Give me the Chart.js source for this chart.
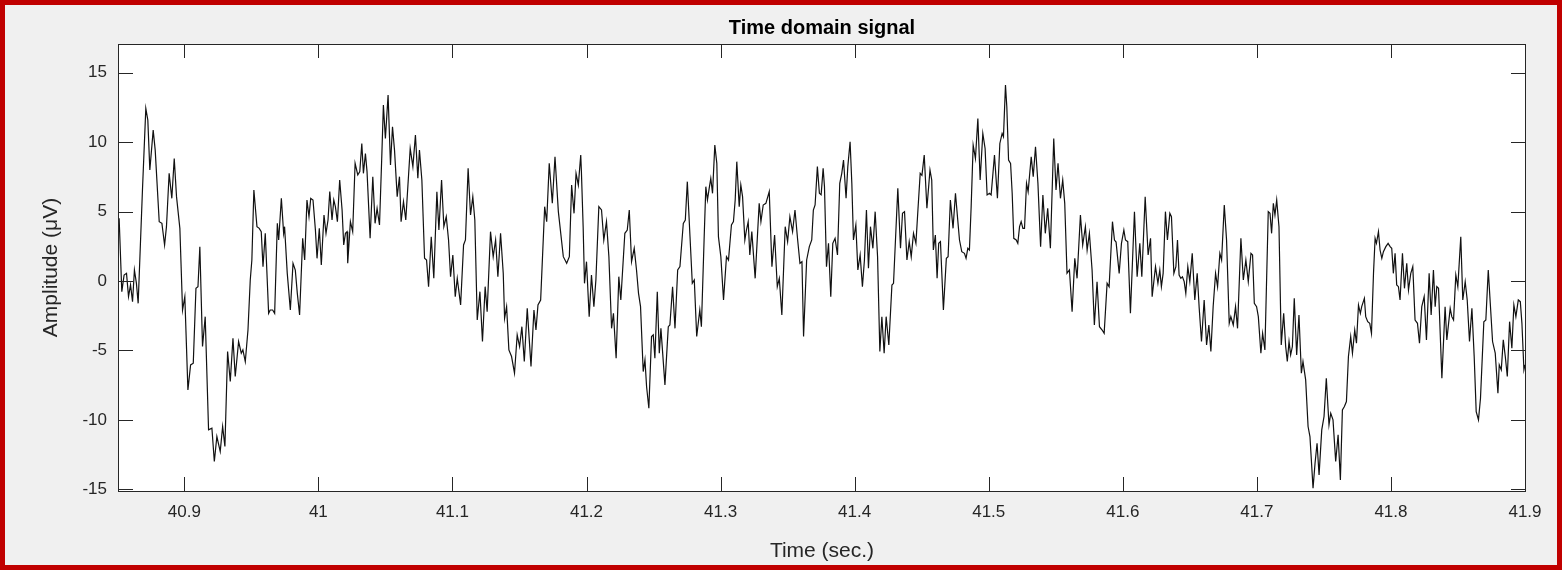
<!DOCTYPE html>
<html>
<head>
<meta charset="utf-8">
<title>Time domain signal</title>
<script src="https://cdn.jsdelivr.net/npm/chart.js@4.4.1/dist/chart.umd.min.js"></script>
<style>
  html, body { margin: 0; padding: 0; background: #f0f0f0; }
  #wrap { position: relative; width: 1562px; height: 570px; }
  #frame {
    position: absolute; left: 0; top: 0; width: 1562px; height: 570px;
    box-sizing: border-box; border: 5px solid #c00000; pointer-events: none;
  }
</style>
</head>
<body>
<div id="wrap">
  <canvas id="signal-chart" width="1562" height="570"></canvas>
  <div id="frame"></div>
</div>
<script>
// samples, one line per ~0.09 s stretch
const timeSec = [
  40.8514, 40.8534, 40.8551, 40.8569, 40.8584, 40.8599, 40.8614, 40.8628, 40.8643, 40.8656, 40.8688, 40.8713, 40.8728, 40.8743, 40.8768, 40.8783, 40.8813, 40.8833, 40.8853, 40.8867, 40.8887, 40.8907, 40.8925, 40.8942, 40.8967, 40.8987, 40.9004, 40.9027, 40.9047, 40.9067, 40.9087, 40.9102, 40.9116, 40.9136, 40.9156, 40.9181, 40.9206, 40.9224, 40.9243, 40.9268, 40.9286, 40.9303, 40.9323, 40.9343, 40.9363, 40.9380,
  40.9405, 40.9425, 40.9437, 40.9455, 40.9475, 40.9492, 40.9504, 40.9519, 40.9542, 40.9559, 40.9574, 40.9587, 40.9604, 40.9629, 40.9641, 40.9659, 40.9674, 40.9694, 40.9704, 40.9724, 40.9741, 40.9748, 40.9768, 40.9791, 40.9811, 40.9828, 40.9843, 40.9860, 40.9883, 40.9898, 40.9915, 40.9930, 40.9943, 40.9960, 40.9978, 40.9990, 41.0007, 41.0022, 41.0042, 41.0057, 41.0072, 41.0085, 41.0102, 41.0115, 41.0127, 41.0142, 41.0159, 41.0177, 41.0189, 41.0202, 41.0214,
  41.0219, 41.0239, 41.0256, 41.0274, 41.0294, 41.0309, 41.0324, 41.0336, 41.0351, 41.0363, 41.0386, 41.0406, 41.0423, 41.0438, 41.0456, 41.0473, 41.0485, 41.0500, 41.0520, 41.0538, 41.0553, 41.0568, 41.0588, 41.0605, 41.0617, 41.0635, 41.0652, 41.0685, 41.0705, 41.0724, 41.0742, 41.0754, 41.0772, 41.0792, 41.0807, 41.0822, 41.0842, 41.0861, 41.0884, 41.0899, 41.0919, 41.0936, 41.0954, 41.0971, 41.0986, 41.1003, 41.1021, 41.1036, 41.1061, 41.1083,
  41.1097, 41.1117, 41.1135, 41.1152, 41.1167, 41.1185, 41.1205, 41.1224, 41.1244, 41.1259, 41.1284, 41.1304, 41.1322, 41.1339, 41.1359, 41.1379, 41.1389, 41.1404, 41.1421, 41.1441, 41.1463, 41.1483, 41.1501, 41.1518, 41.1536, 41.1558, 41.1586, 41.1608, 41.1623, 41.1638, 41.1658, 41.1688, 41.1703, 41.1722, 41.1745, 41.1765, 41.1790, 41.1827, 41.1852, 41.1872, 41.1889, 41.1907, 41.1922, 41.1939, 41.1957,
  41.1962, 41.1975, 41.1985, 41.2000, 41.2020, 41.2037, 41.2055, 41.2070, 41.2092, 41.2112, 41.2129, 41.2149, 41.2167, 41.2187, 41.2201, 41.2221, 41.2241, 41.2256, 41.2286, 41.2304, 41.2319, 41.2336, 41.2356, 41.2373, 41.2388, 41.2403, 41.2423, 41.2436, 41.2448, 41.2465, 41.2485, 41.2498, 41.2510, 41.2528, 41.2543, 41.2555, 41.2585, 41.2610, 41.2622, 41.2642, 41.2660, 41.2680, 41.2697, 41.2722, 41.2737, 41.2752, 41.2772, 41.2789, 41.2804, 41.2822,
  41.2845, 41.2857, 41.2877, 41.2890, 41.2902, 41.2915, 41.2927, 41.2940, 41.2957, 41.2972, 41.2984, 41.3002, 41.3022, 41.3044, 41.3059, 41.3081, 41.3096, 41.3109, 41.3121, 41.3139, 41.3151, 41.3164, 41.3181, 41.3193, 41.3206, 41.3218, 41.3233, 41.3258, 41.3288, 41.3301, 41.3318, 41.3338, 41.3363, 41.3383, 41.3403, 41.3423, 41.3438, 41.3457, 41.3482, 41.3500, 41.3517, 41.3537, 41.3555, 41.3575, 41.3592, 41.3607, 41.3619, 41.3642, 41.3662,
  41.3680, 41.3692, 41.3705, 41.3722, 41.3737, 41.3750, 41.3765, 41.3775, 41.3790, 41.3805, 41.3822, 41.3837, 41.3854, 41.3872, 41.3889, 41.3904, 41.3917, 41.3936, 41.3949, 41.3966, 41.3979, 41.3991, 41.4009, 41.4024, 41.4041, 41.4058, 41.4073, 41.4088, 41.4103, 41.4118, 41.4136, 41.4153, 41.4171, 41.4188, 41.4203, 41.4220, 41.4235, 41.4255, 41.4278, 41.4290, 41.4322, 41.4342, 41.4357, 41.4372, 41.4390, 41.4407, 41.4422, 41.4439, 41.4457, 41.4472, 41.4489, 41.4502, 41.4519, 41.4539,
  41.4562, 41.4575, 41.4587, 41.4602, 41.4615, 41.4627, 41.4640, 41.4662, 41.4684, 41.4697, 41.4714, 41.4734, 41.4752, 41.4769, 41.4782, 41.4799, 41.4819, 41.4831, 41.4844, 41.4856, 41.4869, 41.4884, 41.4901, 41.4919, 41.4936, 41.4956, 41.4973, 41.4988, 41.5006, 41.5018, 41.5043, 41.5065, 41.5083, 41.5100, 41.5110, 41.5125, 41.5135, 41.5148, 41.5163, 41.5175, 41.5187, 41.5205, 41.5217, 41.5230, 41.5242, 41.5255, 41.5267, 41.5282, 41.5294, 41.5317, 41.5332, 41.5349, 41.5367, 41.5387, 41.5404,
  41.5422, 41.5440, 41.5460, 41.5485, 41.5502, 41.5517, 41.5535, 41.5552, 41.5567, 41.5584, 41.5602, 41.5622, 41.5642, 41.5659, 41.5684, 41.5701, 41.5721, 41.5734, 41.5751, 41.5771, 41.5788, 41.5808, 41.5826, 41.5846, 41.5861, 41.5883, 41.5898, 41.5923, 41.5938, 41.5950, 41.5973, 41.5990, 41.6008, 41.6020, 41.6037, 41.6057, 41.6087, 41.6107, 41.6127, 41.6142, 41.6167, 41.6189, 41.6207, 41.6219, 41.6244, 41.6262,
  41.6276, 41.6288, 41.6301, 41.6318, 41.6333, 41.6351, 41.6363, 41.6381, 41.6396, 41.6408, 41.6420, 41.6433, 41.6445, 41.6458, 41.6470, 41.6485, 41.6500, 41.6518, 41.6537, 41.6555, 41.6570, 41.6587, 41.6607, 41.6625, 41.6642, 41.6657, 41.6674, 41.6692, 41.6707, 41.6724, 41.6737, 41.6757, 41.6774, 41.6794, 41.6806, 41.6824, 41.6841, 41.6856, 41.6881, 41.6899, 41.6918, 41.6936, 41.6956, 41.6968, 41.6981, 41.6998, 41.7011, 41.7030, 41.7043, 41.7060, 41.7085, 41.7098, 41.7110, 41.7123, 41.7135, 41.7148,
  41.7165, 41.7182, 41.7200, 41.7215, 41.7227, 41.7240, 41.7252, 41.7265, 41.7279, 41.7297, 41.7314, 41.7332, 41.7344, 41.7364, 41.7382, 41.7396, 41.7419, 41.7434, 41.7449, 41.7464, 41.7484, 41.7501, 41.7518, 41.7538, 41.7551, 41.7568, 41.7588, 41.7606, 41.7623, 41.7638, 41.7653, 41.7668, 41.7683, 41.7700, 41.7713, 41.7730, 41.7743, 41.7758, 41.7772, 41.7782, 41.7802, 41.7812, 41.7827, 41.7842, 41.7855, 41.7870, 41.7882, 41.7892, 41.7907, 41.7919, 41.7932, 41.7944, 41.7962, 41.7979, 41.7994,
  41.8006, 41.8018, 41.8031, 41.8043, 41.8056, 41.8068, 41.8086, 41.8101, 41.8118, 41.8131, 41.8148, 41.8163, 41.8180, 41.8198, 41.8213, 41.8230, 41.8248, 41.8265, 41.8285, 41.8300, 41.8317, 41.8330, 41.8342, 41.8355, 41.8380, 41.8404, 41.8417, 41.8442, 41.8454, 41.8467, 41.8484, 41.8499, 41.8521, 41.8536, 41.8554, 41.8569, 41.8586, 41.8604, 41.8621, 41.8636, 41.8653, 41.8668, 41.8693, 41.8708, 41.8726, 41.8741, 41.8758, 41.8778, 41.8798, 41.8808, 41.8823, 41.8838, 41.8853, 41.8868, 41.8885, 41.8902, 41.8917, 41.8932, 41.8950, 41.8965, 41.8977, 41.8992, 41.9000
];

const amplitudeUv = [
  4.51, -0.77, 0.43, 0.55, -1.13, -0.29, -1.49, 0.79, -0.17, -1.61, 6.55, 12.42, 11.58, 7.99, 10.86, 9.42, 4.27, 4.15, 2.59, 3.91, 7.75, 5.95, 8.82, 6.07, 3.79, -2.09, -1.13, -7.85, -6.04, -5.92, -0.53, -0.41, 2.47, -4.72, -2.57, -10.72, -10.6, -13.0, -11.2, -12.28, -10.48, -11.92, -5.08, -7.24, -4.12, -6.88,
  -4.36, -5.2, -4.96, -5.8, -3.53, 0.07, 1.51, 6.55, 3.91, 3.79, 3.55, 1.03, 3.43, -2.33, -2.09, -2.09, -2.33, 4.15, 2.95, 5.95, 3.43, 3.91, 0.55, -2.09, 1.27, 0.79, -0.89, -2.45, 3.07, 1.51, 5.83, 4.63, 5.95, 5.83, 3.67, 1.63, 3.79, 1.15, 4.75, 3.43, 4.39, 6.43, 4.39, 5.83, 5.35, 4.27, 7.27, 5.11, 2.59, 3.43, 3.55,
  1.27, 4.27, 3.55, 8.47, 7.63, 7.87, 9.9, 7.75, 9.18, 7.87, 3.07, 7.51, 4.15, 5.23, 4.03, 8.94, 12.66, 10.26, 13.38, 8.35, 11.1, 9.42, 6.07, 7.51, 4.27, 5.71, 4.39, 9.54, 8.23, 10.5, 7.39, 9.42, 7.27, 1.63, 1.51, -0.41, 3.19, 0.19, 6.43, 3.67, 7.27, 3.91, 4.63, 2.95, 0.31, 1.87, -1.13, 0.19, -1.73, 2.59,
  2.95, 8.11, 4.75, 6.07, 4.39, -2.81, -0.77, -4.36, -0.41, -2.21, 3.55, 1.75, 2.95, 0.31, 3.43, 0.55, -2.69, -1.85, -4.96, -5.44, -6.64, -3.88, -4.72, -3.29, -5.8, -1.97, -6.16, -2.09, -3.53, -1.73, -1.37, 5.35, 4.27, 8.47, 5.59, 8.94, 4.99, 1.75, 1.27, 1.75, 6.91, 4.87, 7.75, 6.91, 9.06,
  7.87, 3.91, -0.17, 1.39, -2.57, 0.43, -1.85, 0.07, 5.35, 5.11, 2.95, 4.27, 1.75, -3.41, -2.33, -5.56, 0.31, -1.37, 3.43, 3.67, 5.11, 1.39, 2.35, 0.79, -0.89, -1.85, -6.52, -5.68, -7.6, -9.16, -4.0, -3.88, -5.56, -0.77, -5.2, -3.41, -7.48, -3.29, -3.17, -0.41, -3.41, 0.79, 1.03, 4.15, 4.39, 7.15, 3.19, -0.17, 0.07, -4.0,
  -2.09, -3.29, 2.95, 6.79, 5.83, 6.67, 7.39, 6.31, 9.78, 8.47, 3.19, 1.75, -1.37, 1.75, 1.51, 4.03, 4.27, 5.83, 8.59, 5.35, 6.91, 6.07, 2.95, 3.67, 4.27, 1.87, 3.55, 0.19, 5.59, 4.27, 5.47, 5.59, 6.43, 1.03, 3.31, -0.41, 0.19, -2.45, 3.91, 2.83, 4.63, 3.55, 5.11, 2.95, 1.27, 1.39, -4.0, 1.51, 2.47,
  2.95, 5.11, 5.47, 8.23, 6.31, 6.2, 8.11, 6.79, 1.03, 2.71, -1.13, 2.71, 3.07, 1.87, 7.03, 7.75, 8.71, 5.95, 8.23, 10.02, 7.03, 2.95, 4.03, 0.79, 1.87, -0.41, 1.51, 5.11, 0.91, 3.91, 2.35, 4.99, 1.75, -5.08, -2.57, -5.2, -2.57, -4.6, -0.29, -0.17, 6.67, 2.35, 4.87, 4.99, 1.51, 2.83, 1.75, 3.43, 2.71, 5.11, 7.75, 7.6, 9.06, 5.23,
  7.99, 7.27, 2.23, 3.31, 0.19, 2.71, 2.83, -2.09, 1.63, 1.75, 5.83, 3.79, 6.31, 4.39, 2.95, 2.11, 1.99, 1.63, 2.35, 2.23, 5.35, 9.78, 8.82, 11.7, 7.27, 10.62, 9.54, 6.19, 6.31, 6.19, 9.06, 5.95, 9.9, 10.62, 10.38, 14.1, 12.54, 8.71, 8.47, 6.31, 3.07, 2.95, 2.71, 3.91, 4.27, 3.79, 3.79, 7.03, 6.43, 8.94, 7.51, 9.66, 7.03, 2.47, 6.19,
  3.43, 5.23, 2.35, 10.26, 6.55, 8.47, 5.95, 7.27, 5.59, 0.55, 0.79, -2.21, 1.63, 0.19, 4.75, 2.59, 3.91, 2.23, 3.43, 0.79, -3.17, -0.05, -3.29, -3.53, -3.77, -0.17, -0.41, 4.27, 2.95, 2.8, 0.55, 2.71, 3.67, 2.95, 2.83, -2.33, 4.99, 0.31, 2.71, 0.31, 6.07, 1.87, 3.07, -1.13, 1.03, -0.17,
  0.79, -0.41, 0.55, 4.99, 2.95, 4.87, 4.63, 0.55, 1.03, 2.95, 0.43, 0.19, 0.3, -0.05, -0.89, 1.03, -0.05, 1.99, -1.37, 0.55, -1.97, -4.36, -1.37, -4.6, -3.17, -5.08, -1.85, 0.55, -0.41, 1.99, 1.51, 5.47, 2.95, -3.05, -2.57, -3.17, -1.85, -3.41, 3.07, 0.07, 1.51, -0.05, 1.99, 1.87, -1.61, -1.85, -2.57, -5.2, -3.77, -4.96, 4.99, 4.87, 3.43, 5.59, 4.75, 5.83,
  3.91, -4.6, -2.33, -4.72, -5.8, -4.36, -5.32, -4.72, -1.25, -5.32, -2.45, -6.64, -5.8, -7.12, -10.48, -11.2, -14.92, -13.12, -11.68, -13.96, -10.72, -9.76, -7.0, -10.36, -9.52, -10.0, -13.0, -11.08, -14.32, -9.28, -9.04, -8.68, -5.44, -4.0, -5.2, -3.53, -4.48, -1.73, -2.33, -1.85, -1.25, -2.57, -2.93, -3.05, -3.77, 0.55, 3.07, 2.71, 3.55, 2.23, 1.63, 2.11, 2.47, 2.71, 2.47,
  2.35, 0.55, 1.99, -0.29, -0.41, -1.37, 1.99, -0.53, 1.27, -0.65, 0.55, 1.03, -2.81, -3.05, -4.48, -1.85, -1.13, -4.24, 0.55, -2.45, 0.79, -1.85, -0.41, -0.53, -7.0, -1.85, -4.24, -1.97, -2.57, -2.81, 0.43, -0.41, 3.19, -1.37, -0.05, -1.37, -4.36, -1.97, -5.44, -9.4, -10.0, -8.44, -2.93, -2.81, 0.79, -1.61, -4.36, -5.2, -8.08, -6.04, -6.4, -4.24, -5.44, -6.88, -2.93, -4.84, -1.73, -2.57, -1.37, -1.49, -3.05, -6.4, -6.04
];

const xTickValues = [40.9, 41.0, 41.1, 41.2, 41.3, 41.4, 41.5, 41.6, 41.7, 41.8, 41.9];
const yTickValues = [-15, -10, -5, 0, 5, 10, 15];

const FONT = '"Liberation Sans", Arial, Helvetica, sans-serif';
const AXIS_COLOR = "#262626";
const TICK_LEN = 14;

if (timeSec.length !== amplitudeUv.length) {
  console.error("length mismatch", timeSec.length, amplitudeUv.length);
}
const points = timeSec.map((t, i) => ({ x: t, y: amplitudeUv[i] }));

// white axes area + MATLAB style box with inward ticks on all sides
const matlabBox = {
  id: "matlabBox",
  beforeDraw(chart) {
    const { ctx, chartArea: a } = chart;
    ctx.save();
    ctx.fillStyle = "#ffffff";
    ctx.fillRect(a.left, a.top, a.right - a.left, a.bottom - a.top);
    ctx.restore();
  },
  afterDatasetsDraw(chart) {
    const { ctx, chartArea: a, scales } = chart;
    ctx.save();
    ctx.strokeStyle = AXIS_COLOR;
    ctx.lineWidth = 1;
    ctx.beginPath();
    xTickValues.forEach(function (v) {
      const px = Math.round(scales.x.getPixelForValue(v)) + 0.5;
      ctx.moveTo(px, a.bottom);
      ctx.lineTo(px, a.bottom - TICK_LEN);
      ctx.moveTo(px, a.top);
      ctx.lineTo(px, a.top + TICK_LEN);
    });
    yTickValues.forEach(function (v) {
      const py = Math.round(scales.y.getPixelForValue(v)) + 0.5;
      ctx.moveTo(a.left, py);
      ctx.lineTo(a.left + TICK_LEN, py);
      ctx.moveTo(a.right, py);
      ctx.lineTo(a.right - TICK_LEN, py);
    });
    ctx.stroke();
    ctx.strokeRect(a.left - 0.5, a.top + 0.5, a.right - a.left + 1, a.bottom - a.top);
    ctx.restore();
  }
};

const ctx = document.getElementById("signal-chart").getContext("2d");
new Chart(ctx, {
  type: "line",
  data: {
    datasets: [{
      data: points,
      borderColor: "#111111",
      borderWidth: 1.2,
      pointRadius: 0,
      fill: false,
      tension: 0
    }]
  },
  options: {
    responsive: false,
    animation: false,
    devicePixelRatio: 1,
    layout: { padding: { left: 0, top: 0, right: 37, bottom: 0 } },
    plugins: {
      legend: { display: false },
      tooltip: { enabled: false },
      title: {
        display: true,
        text: "Time domain signal",
        fullSize: false,
        color: "#000000",
        font: { family: FONT, size: 20, weight: "bold" },
        padding: { top: 16, bottom: 4 }
      }
    },
    scales: {
      x: {
        type: "linear",
        position: "bottom",
        min: 40.8513,
        max: 41.9,
        grid: { display: false, drawTicks: false },
        border: { display: false },
        afterBuildTicks: function (scale) {
          scale.ticks = xTickValues.map(v => ({ value: v }));
        },
        afterFit: function (scale) { scale.height = 79; },
        ticks: {
          autoSkip: false,
          maxRotation: 0,
          padding: 11,
          color: AXIS_COLOR,
          font: { family: FONT, size: 17 },
          callback: v => String(Number(v.toFixed(1)))
        },
        title: {
          display: true,
          text: "Time (sec.)",
          color: AXIS_COLOR,
          font: { family: FONT, size: 21 },
          padding: { top: 0, bottom: 6 }
        }
      },
      y: {
        type: "linear",
        min: -15.12,
        max: 17.06,
        grid: { display: false, drawTicks: false },
        border: { display: false },
        afterBuildTicks: function (scale) {
          scale.ticks = yTickValues.map(v => ({ value: v }));
        },
        afterFit: function (scale) { scale.width = 119; },
        ticks: {
          padding: 12,
          color: AXIS_COLOR,
          font: { family: FONT, size: 17 },
          callback: v => String(v)
        },
        title: {
          display: true,
          text: "Amplitude (μV)",
          color: AXIS_COLOR,
          font: { family: FONT, size: 21 },
          padding: { top: 39, bottom: 0 }
        }
      }
    }
  },
  plugins: [matlabBox]
});
</script>
</body>
</html>
